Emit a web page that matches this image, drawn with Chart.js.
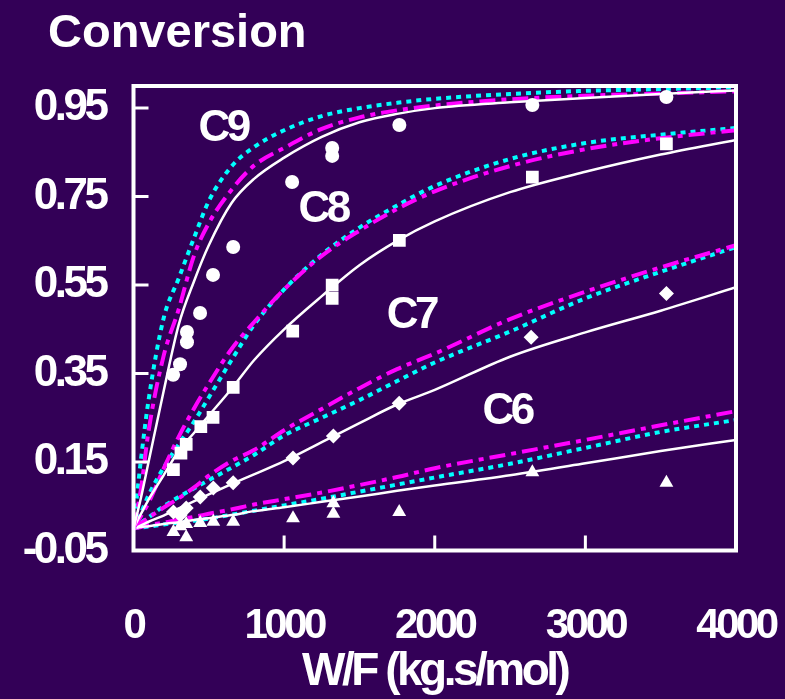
<!DOCTYPE html>
<html>
<head>
<meta charset="utf-8">
<script src="https://cdn.jsdelivr.net/npm/chart.js@4.4.1/dist/chart.umd.min.js"></script>
<style>
  html, body { margin: 0; padding: 0; background: #330057; }
  #wrap { width: 785px; height: 699px; }
</style>
</head>
<body>
<div id="wrap"><canvas id="chart" width="785" height="699"></canvas></div>
<script>
// W/F grid used for the model curves (kg.s/mol)
const wGrid = [0, 50, 100, 200, 300, 400, 500, 650, 800, 1000, 1250, 1500, 1750, 2000, 2500, 3000, 3500, 4000];

// model curves: solid (white), dash-dot (magenta), dotted (cyan)
const c9Solid   = [0, 0.07, 0.15, 0.31, 0.46, 0.557, 0.64, 0.735, 0.79, 0.838, 0.885, 0.918, 0.937, 0.95, 0.963, 0.973, 0.982, 0.99];
const c9DashDot = [0, 0.09, 0.22, 0.39, 0.495, 0.615, 0.69, 0.765, 0.82, 0.86, 0.903, 0.929, 0.945, 0.956, 0.97, 0.978, 0.983, 0.988];
const c9Dotted  = [0, 0.157, 0.29, 0.475, 0.565, 0.655, 0.74, 0.818, 0.862, 0.9, 0.932, 0.95, 0.962, 0.971, 0.982, 0.989, 0.993, 0.997];

const c8Solid   = [0, 0.033, 0.065, 0.12, 0.175, 0.215, 0.255, 0.315, 0.38, 0.45, 0.525, 0.595, 0.65, 0.694, 0.76, 0.806, 0.845, 0.878];
const c8DashDot = [0, 0.028, 0.058, 0.135, 0.207, 0.27, 0.327, 0.405, 0.466, 0.54, 0.616, 0.673, 0.722, 0.762, 0.819, 0.857, 0.882, 0.9];
const c8Dotted  = [0, 0.035, 0.075, 0.137, 0.19, 0.24, 0.296, 0.38, 0.46, 0.54, 0.619, 0.68, 0.73, 0.774, 0.835, 0.871, 0.89, 0.905];

const c7Solid   = [0, 0.007, 0.015, 0.029, 0.045, 0.061, 0.077, 0.1, 0.122, 0.152, 0.195, 0.238, 0.28, 0.313, 0.388, 0.443, 0.492, 0.545];
const c7DashDot = [0, 0.012, 0.024, 0.047, 0.068, 0.092, 0.119, 0.152, 0.177, 0.222, 0.27, 0.317, 0.36, 0.395, 0.473, 0.535, 0.59, 0.64];
const c7Dotted  = [0, 0.013, 0.025, 0.05, 0.071, 0.09, 0.109, 0.137, 0.166, 0.21, 0.25, 0.29, 0.333, 0.375, 0.445, 0.52, 0.58, 0.636];

const c6Solid   = [0, 0.003, 0.005, 0.01, 0.014, 0.019, 0.023, 0.03, 0.039, 0.048, 0.06, 0.072, 0.085, 0.097, 0.12, 0.147, 0.175, 0.2];
const c6DashDot = [0, 0.003, 0.007, 0.013, 0.02, 0.026, 0.033, 0.043, 0.054, 0.066, 0.081, 0.098, 0.116, 0.136, 0.168, 0.2, 0.233, 0.265];
const c6Dotted  = [0, 0.002, 0.004, 0.009, 0.013, 0.017, 0.022, 0.031, 0.04, 0.052, 0.067, 0.083, 0.099, 0.115, 0.146, 0.182, 0.218, 0.245];

// experimental points
const c9W = [263, 309, 355, 355, 442, 528, 662, 1053, 1319, 1319, 1765, 2648, 3538];
const c9X = [0.347, 0.371, 0.421, 0.444, 0.487, 0.573, 0.636, 0.783, 0.842, 0.86, 0.912, 0.957, 0.975];
const c8W = [265, 315, 350, 447, 528, 662, 1057, 1319, 1319, 1765, 2648, 3538];
const c8X = [0.133, 0.17, 0.19, 0.23, 0.251, 0.319, 0.446, 0.52, 0.55, 0.651, 0.794, 0.869];
const c7W = [265, 310, 350, 443, 530, 662, 1059, 1327, 1764, 2640, 3538];
const c7X = [0.037, 0.03, 0.046, 0.071, 0.091, 0.103, 0.159, 0.209, 0.283, 0.432, 0.531];
const c6W = [265, 310, 350, 350, 443, 530, 662, 1059, 1327, 1327, 1764, 2648, 3538];
const c6X = [-0.008, 0.005, -0.02, 0.01, 0.012, 0.015, 0.015, 0.023, 0.033, 0.057, 0.037, 0.127, 0.103];

const xTicks = [0, 1000, 2000, 3000, 4000];
const yTicks = [-0.05, 0.15, 0.35, 0.55, 0.75, 0.95];

const seriesNames = ["C9", "C8", "C7", "C6"];
const nameW = [595, 1259, 1844, 2481];
const nameX = [0.903, 0.72, 0.48, 0.263];

const BG = "#330057";
const FONT = "'Liberation Sans', Arial, sans-serif";

function toPoints(ws, vs) {
  return ws.map((w, i) => ({ x: w, y: vs[i] }));
}

function curve(vals, kind) {
  const base = {
    data: toPoints(wGrid, vals),
    showLine: true,
    pointRadius: 0,
    cubicInterpolationMode: "monotone",
    order: 2,
  };
  if (kind === "solid") return { ...base, borderColor: "#ffffff", borderWidth: 2.5 };
  if (kind === "dashdot") return { ...base, borderColor: "#ff00ff", borderWidth: 4, borderDash: [16, 6, 5, 6] };
  return { ...base, borderColor: "#00ffff", borderWidth: 4, borderDash: [5, 5] };
}

function marks(ws, vs, style, r) {
  return {
    data: toPoints(ws, vs),
    showLine: false,
    pointStyle: style,
    pointRadius: r,
    pointBackgroundColor: "#ffffff",
    pointBorderColor: "#ffffff",
    pointBorderWidth: 0,
    order: 0,
  };
}

const frame = {
  id: "frame",
  beforeDraw(chart) {
    const ctx = chart.ctx;
    ctx.save();
    ctx.fillStyle = BG;
    ctx.fillRect(0, 0, chart.width, chart.height);
    ctx.fillStyle = "#ffffff";
    ctx.font = "bold 47px " + FONT;
    ctx.textAlign = "left";
    ctx.textBaseline = "alphabetic";
    ctx.fillText("Conversion", 48, 47);
    ctx.restore();
    // the original axis text is set tight
    ctx.letterSpacing = "-3.5px";
  },
  afterDatasetsDraw(chart) {
    const { ctx, chartArea: a, scales } = chart;
    ctx.save();
    ctx.strokeStyle = "#ffffff";
    ctx.lineWidth = 4;
    ctx.strokeRect(a.left, a.top, a.right - a.left, a.bottom - a.top);
    // inward tick marks
    ctx.lineWidth = 3;
    ctx.beginPath();
    yTicks.slice(1).forEach((v) => {
      const y = scales.y.getPixelForValue(v);
      ctx.moveTo(a.left, y);
      ctx.lineTo(a.left + 15, y);
    });
    xTicks.slice(1, -1).forEach((v) => {
      const x = scales.x.getPixelForValue(v);
      ctx.moveTo(x, a.bottom);
      ctx.lineTo(x, a.bottom - 15);
    });
    ctx.stroke();
    // series names
    ctx.fillStyle = "#ffffff";
    ctx.font = "bold 44px " + FONT;
    ctx.textAlign = "center";
    ctx.textBaseline = "middle";
    seriesNames.forEach((n, i) => {
      ctx.fillText(n, scales.x.getPixelForValue(nameW[i]), scales.y.getPixelForValue(nameX[i]));
    });
    ctx.restore();
  },
  afterDraw(chart) {
    chart.ctx.letterSpacing = "0px";
  },
};

new Chart(document.getElementById("chart"), {
  type: "scatter",
  data: {
    datasets: [
      marks(c9W, c9X, "circle", 7),
      marks(c8W, c8X, "rect", 9),
      marks(c7W, c7X, "rectRot", 7.5),
      marks(c6W, c6X, "triangle", 8),
      curve(c9Solid, "solid"), curve(c9DashDot, "dashdot"), curve(c9Dotted, "dotted"),
      curve(c8Solid, "solid"), curve(c8DashDot, "dashdot"), curve(c8Dotted, "dotted"),
      curve(c7Solid, "solid"), curve(c7DashDot, "dashdot"), curve(c7Dotted, "dotted"),
      curve(c6Solid, "solid"), curve(c6DashDot, "dashdot"), curve(c6Dotted, "dotted"),
    ],
  },
  options: {
    responsive: false,
    animation: false,
    devicePixelRatio: 1,
    layout: { padding: { top: 86, right: 49, left: 0, bottom: 0 } },
    plugins: { legend: { display: false }, tooltip: { enabled: false }, title: { display: false } },
    scales: {
      x: {
        type: "linear",
        min: 0,
        max: 4000,
        afterBuildTicks: (s) => { s.ticks = xTicks.map((v) => ({ value: v })); },
        afterFit: (s) => { s.height = 148.5; s.paddingLeft = 0; s.paddingRight = 0; },
        grid: { display: false, drawTicks: false },
        border: { display: false },
        ticks: {
          color: "#ffffff",
          padding: 55,
          maxRotation: 0,
          autoSkip: false,
          font: { family: FONT, size: 42, weight: "bold", lineHeight: 1 },
          callback: (v) => String(v),
        },
        title: {
          display: true,
          text: "W/F (kg.s/mol)",
          color: "#ffffff",
          font: { family: FONT, size: 46, weight: "bold", lineHeight: 1 },
          padding: { top: 0, bottom: 4 },
        },
      },
      y: {
        type: "linear",
        min: -0.05,
        max: 1.0,
        afterBuildTicks: (s) => { s.ticks = yTicks.map((v) => ({ value: v })); },
        afterFit: (s) => { s.width = 133.5; s.paddingTop = 0; s.paddingBottom = 0; },
        grid: { display: false, drawTicks: false },
        border: { display: false },
        ticks: {
          color: "#ffffff",
          padding: 28,
          autoSkip: false,
          font: { family: FONT, size: 44, weight: "bold", lineHeight: 1 },
          callback: (v) => v.toFixed(2),
        },
      },
    },
  },
  plugins: [frame],
});
</script>
</body>
</html>
